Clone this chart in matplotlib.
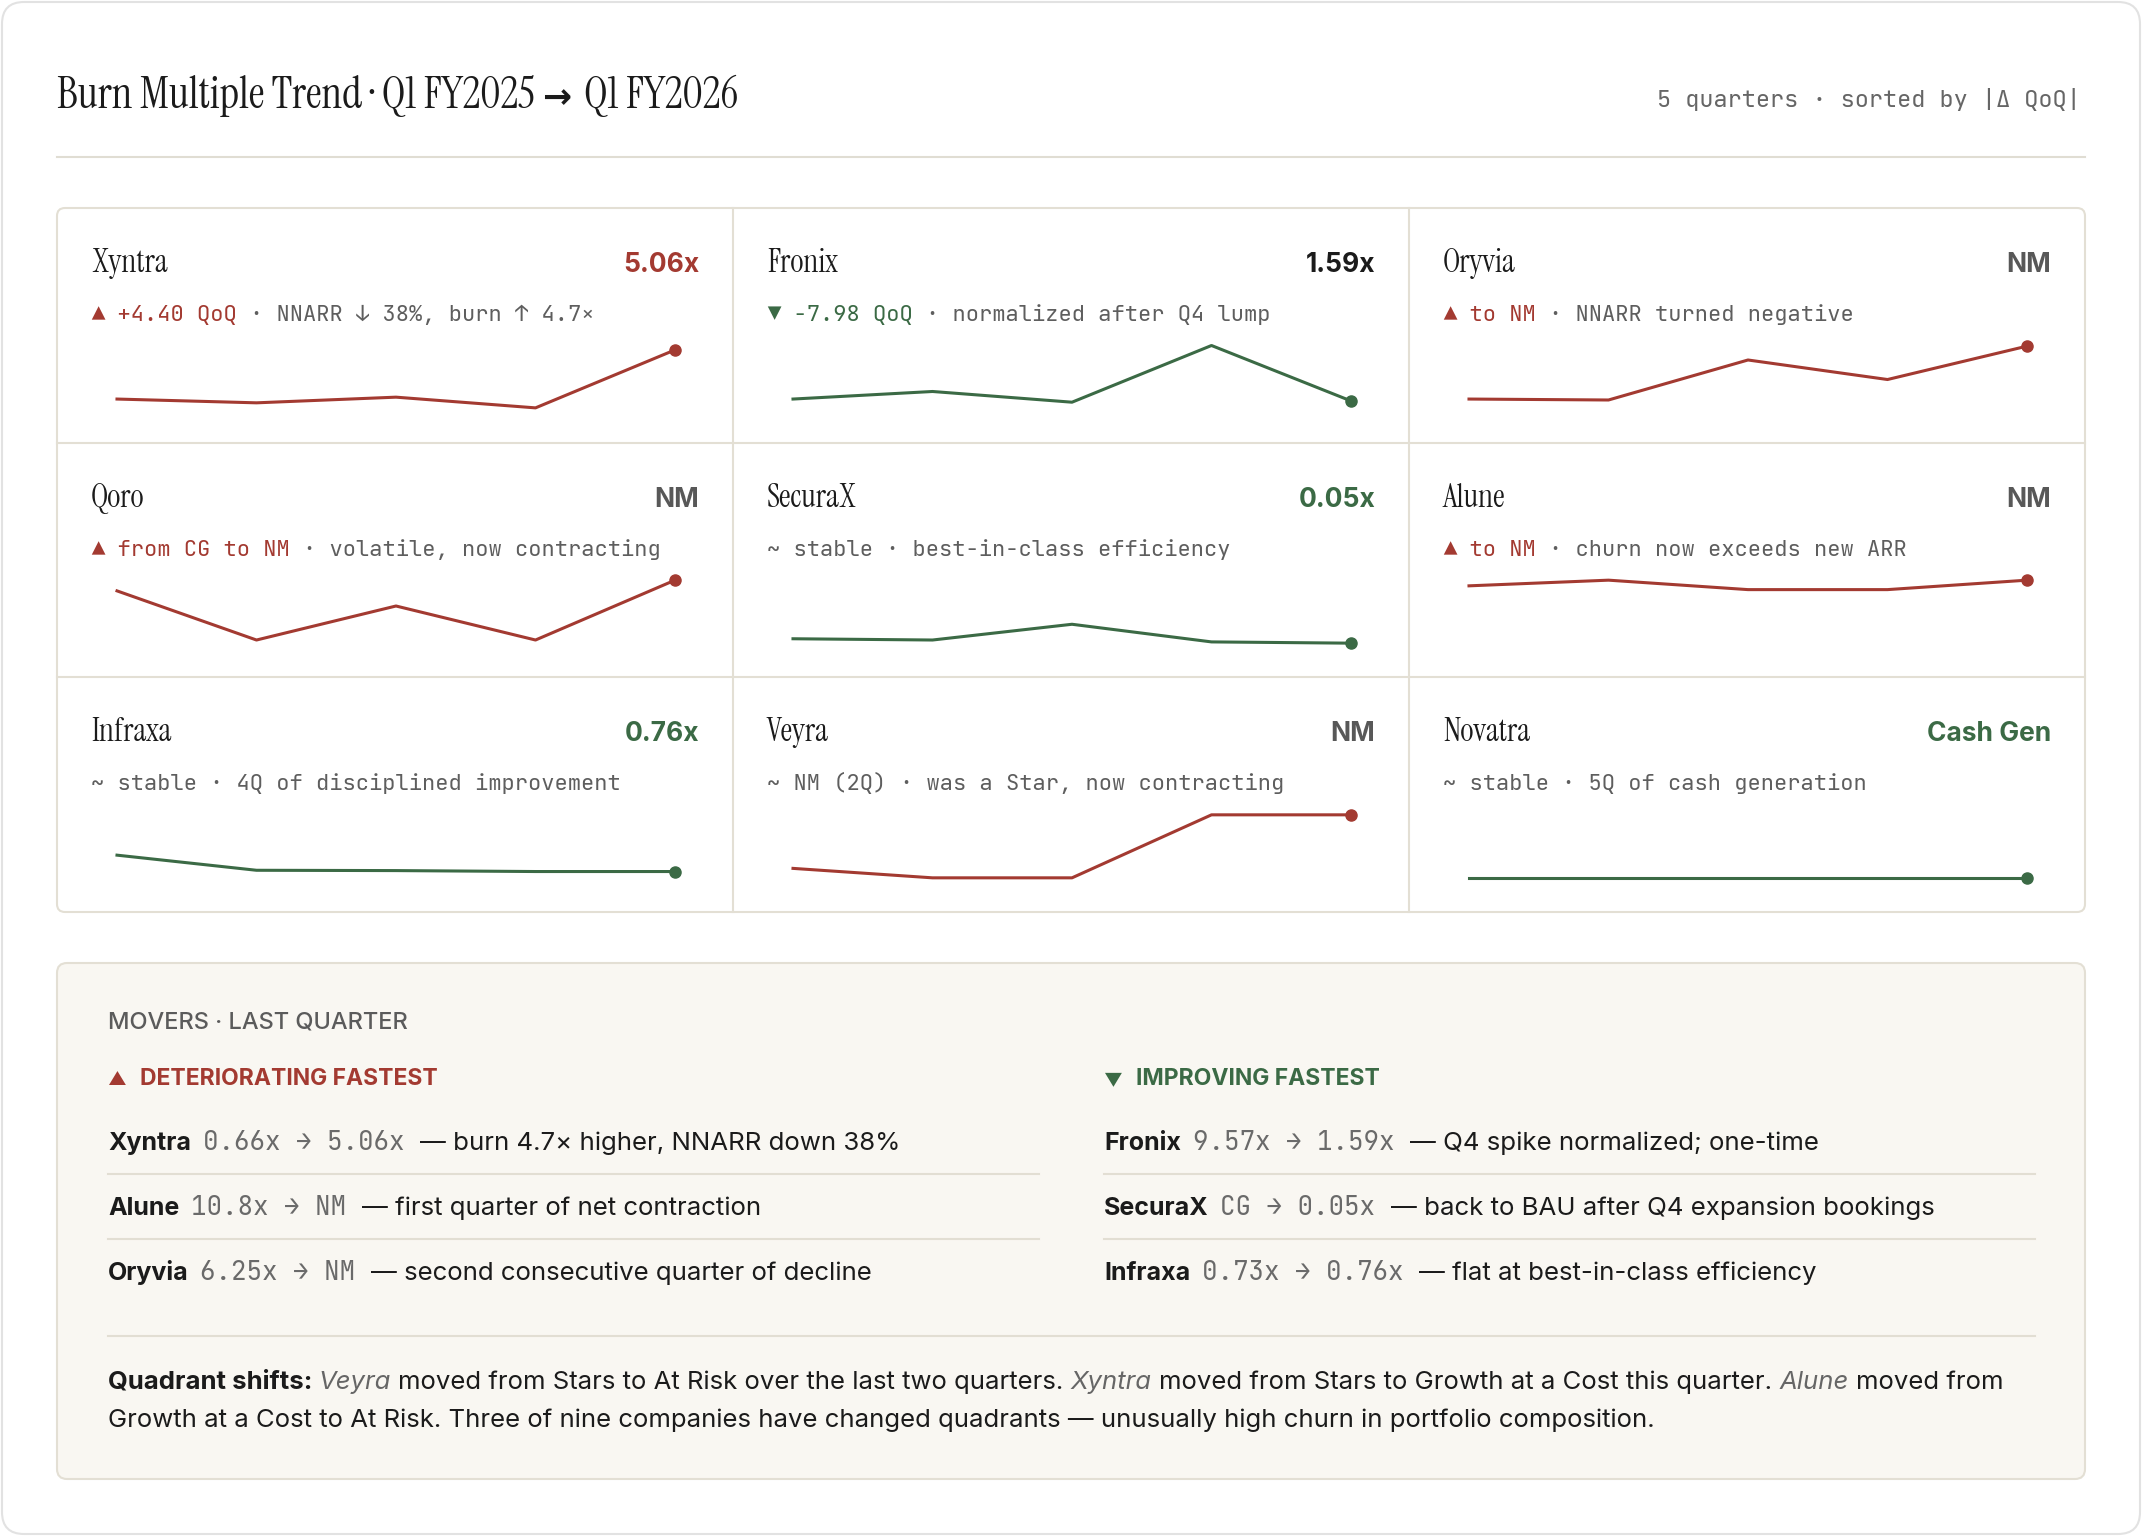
import matplotlib
matplotlib.use("Agg")
import matplotlib.pyplot as plt
from matplotlib.patches import FancyBboxPatch

# ---------------- data ----------------
companies = ['Xyntra', 'Fronix', 'Oryvia', 'Qoro', 'SecuraX', 'Alune', 'Infraxa', 'Veyra', 'Novatra']
current = ['5.06x', '1.59x', 'NM', 'NM', '0.05x', 'NM', '0.76x', 'NM', 'Cash Gen']
value_tone = ['bad', 'neutral', 'nm', 'nm', 'good', 'nm', 'good', 'nm', 'good']
line_tone = ['bad', 'good', 'bad', 'bad', 'good', 'bad', 'good', 'bad', 'good']
trend_tag = ['▲ +4.40 QoQ', '▼ -7.98 QoQ', '▲ to NM', '▲ from CG to NM', '~ stable',
             '▲ to NM', '~ stable', '~ NM (2Q)', '~ stable']
trend_dir = ['up', 'down', 'up', 'up', 'flat', 'up', 'flat', 'flat', 'flat']
trend_note = ['NNARR ↓ 38%, burn ↑ 4.7×', 'normalized after Q4 lump', 'NNARR turned negative',
              'volatile, now contracting', 'best-in-class efficiency', 'churn now exceeds new ARR',
              '4Q of disciplined improvement', 'was a Star, now contracting', '5Q of cash generation']

# sparkline level per quarter (Q1 FY25 .. Q1 FY26), 0 = lowest burn, 10 = worst / NM
spark = {
    'Xyntra':  [1.5, 0.9, 1.8, 0.1, 9.3],
    'Fronix':  [1.5, 2.7, 1.0, 10.0, 1.2],
    'Oryvia':  [1.5, 1.35, 7.7, 4.6, 9.9],
    'Qoro':    [8.3, 0.5, 5.9, 0.5, 10.0],
    'SecuraX': [0.7, 0.5, 3.0, 0.2, 0.0],
    'Alune':   [9.1, 10.0, 8.5, 8.5, 10.0],
    'Infraxa': [3.6, 1.2, 1.15, 1.0, 1.0],
    'Veyra':   [1.5, 0.0, 0.0, 10.0, 10.0],
    'Novatra': [0.0, 0.0, 0.0, 0.0, 0.0],
}

movers_bad = [('Xyntra', '0.66x → 5.06x', 'burn 4.7× higher, NNARR down 38%'),
              ('Alune', '10.8x → NM', 'first quarter of net contraction'),
              ('Oryvia', '6.25x → NM', 'second consecutive quarter of decline')]
movers_good = [('Fronix', '9.57x → 1.59x', 'Q4 spike normalized; one-time'),
               ('SecuraX', 'CG → 0.05x', 'back to BAU after Q4 expansion bookings'),
               ('Infraxa', '0.73x → 0.76x', 'flat at best-in-class efficiency')]

# ---------------- style ----------------
RED = '#a33a31'
GREEN = '#3b6a45'
INK = '#1b1b1b'
GRAY = '#5e5e5e'
BORDER = '#e3dfd4'
PANEL = '#f9f7f2'
SERIF = ['Instrument Serif', 'Liberation Serif', 'DejaVu Serif']
SANS = ['Inter', 'Roboto', 'DejaVu Sans']
MONO = ['JetBrains Mono', 'DejaVu Sans Mono']
tone_col = {'bad': RED, 'good': GREEN, 'neutral': INK, 'nm': '#585858'}
dir_col = {'up': RED, 'down': GREEN, 'flat': GRAY}

W, H = 2142, 1536
fig = plt.figure(figsize=(W / 100, H / 100), dpi=100)
fig.patch.set_facecolor('white')
ax = fig.add_axes([0, 0, 1, 1])
ax.set_xlim(0, W)
ax.set_ylim(H, 0)
ax.axis('off')
r = fig.canvas.get_renderer()


def width_of(s, **kw):
    t = ax.text(0, 0, s, **kw)
    w = t.get_window_extent(renderer=r).width
    t.remove()
    return w


def draw_runs(x, y, parts):
    # lay out text pieces one after another on a baseline
    cur = x
    for s, kw in parts:
        lead = len(s) - len(s.lstrip(' '))
        trail = len(s) - len(s.rstrip(' '))
        sp = width_of('x x', **kw) - width_of('xx', **kw) if (lead or trail) else 0
        cur += lead * sp
        t = ax.text(cur, y, s.strip(' '), va='baseline', ha='left', **kw)
        cur += t.get_window_extent(renderer=r).width + trail * sp
    return cur


# outer card
ax.add_patch(FancyBboxPatch((2, 2), W - 4, H - 4, boxstyle='round,pad=0,rounding_size=22',
                            fc='white', ec='#e2e2e2', lw=1.5))

# header
title_kw = dict(family=SERIF, size=31.5, color=INK)
draw_runs(57, 108, [('Burn Multiple Trend · Q1 FY2025 ', title_kw),
                    ('→ ', dict(family=['DejaVu Sans'], weight='bold', size=25, color=INK)),
                    ('Q1 FY2026', title_kw)])
ax.text(2081, 107, '5 quarters · sorted by |Δ QoQ|', family=MONO, size=17, color='#666666',
        ha='right', va='baseline')
ax.plot([57, 2085], [157, 157], color='#e0ddd3', lw=1.5)

# card grid
gx, gy, cw, ch = 57, 208, 676, 704 / 3
ax.add_patch(FancyBboxPatch((gx, gy), 3 * cw, 3 * ch, boxstyle='round,pad=0,rounding_size=8',
                            fc='white', ec=BORDER, lw=1.5))
for k in (1, 2):
    ax.plot([gx + k * cw] * 2, [gy, gy + 3 * ch], color=BORDER, lw=1.5)
    ax.plot([gx, gx + 3 * cw], [gy + k * ch] * 2, color=BORDER, lw=1.5)

for i, name in enumerate(companies):
    x0 = gx + (i % 3) * cw
    y0 = gy + (i // 3) * ch
    ax.text(x0 + 34, y0 + 64, name, family=SERIF, size=23, color=INK, va='baseline')
    ax.text(x0 + 642, y0 + 64, current[i], family=SANS, weight='bold', size=19,
            color=tone_col[value_tone[i]], ha='right', va='baseline')
    mono = dict(family=MONO, size=15.9)
    draw_runs(x0 + 34, y0 + 113, [(trend_tag[i], dict(color=dir_col[trend_dir[i]], **mono)),
                                  (' · ' + trend_note[i], dict(color=GRAY, **mono))])
    col = tone_col[line_tone[i]]
    sx = fig.add_axes([(x0 + 60) / W, 1 - (y0 + 200.5) / H, 558 / W, 63 / H])
    vals = spark[name]
    sx.plot(range(len(vals)), vals, color=col, lw=2.2, clip_on=False)
    sx.plot(len(vals) - 1, vals[-1], 'o', ms=8, color=col, clip_on=False)
    sx.set_xlim(0, len(vals) - 1)
    sx.set_ylim(0, 10)
    sx.axis('off')

# movers panel
ax.add_patch(FancyBboxPatch((57, 963), 2028, 516, boxstyle='round,pad=0,rounding_size=10',
                            fc=PANEL, ec=BORDER, lw=1.5))
ax.text(108, 1028, 'MOVERS · LAST QUARTER', family=SANS, weight='medium', size=17,
        color='#5b5b5b', va='baseline')
head_kw = dict(family=SANS, weight='bold', size=16.5)
draw_runs(108, 1085, [('▲   ', dict(head_kw, size=13, color=RED)),
                      ('DETERIORATING FASTEST', dict(head_kw, color=RED))])
draw_runs(1104, 1085, [('▼   ', dict(head_kw, size=13, color=GREEN)),
                       ('IMPROVING FASTEST', dict(head_kw, color=GREEN))])

row_y = [1150, 1215, 1280]
for colx, rows in ((108, movers_bad), (1104, movers_good)):
    for j, (nm, move, note) in enumerate(rows):
        draw_runs(colx, row_y[j], [(nm + '  ', dict(family=SANS, weight='bold', size=18, color=INK)),
                                   (move + ' ', dict(family=MONO, size=18.6, color='#6a6a6a')),
                                   ('— ' + note, dict(family=SANS, size=18.6, color=INK))])
        if j < 2:
            ax.plot([colx, colx + 931], [row_y[j] + 24] * 2, color='#e2ded3', lw=1.5)

ax.plot([108, 2035], [1336, 1336], color='#e2ded3', lw=1.5)

body = dict(family=SANS, size=18.5, color=INK)
ital = dict(family=SANS, size=18.5, color='#666666', style='italic')
draw_runs(108, 1389, [('Quadrant shifts: ', dict(family=SANS, size=18.5, color=INK, weight='bold')),
                      ('Veyra ', ital),
                      ('moved from Stars to At Risk over the last two quarters. ', body),
                      ('Xyntra ', ital),
                      ('moved from Stars to Growth at a Cost this quarter. ', body),
                      ('Alune ', ital),
                      ('moved from', body)])
ax.text(108, 1427, 'Growth at a Cost to At Risk. Three of nine companies have changed quadrants '
        '— unusually high churn in portfolio composition.', va='baseline', **body)

fig.savefig('out.png', dpi=100, facecolor=fig.get_facecolor())
